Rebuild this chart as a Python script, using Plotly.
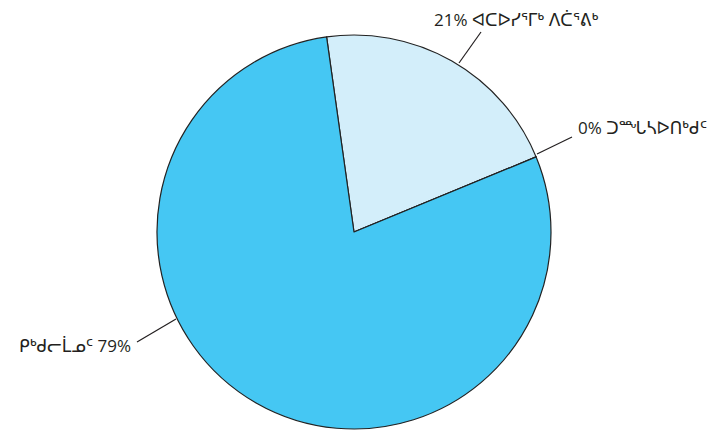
import plotly.graph_objects as go

labels = ["ᐊᑕᐅᓯᕐᒥᒃ ᐱᑖᕐᕕᒃ", "ᑐᙵᓴᐅᑎᒃᑯᑦ", "ᑭᒃᑯᓕᒫᓄᑦ"]
values = [21, 0, 79]
colors = ["#D3EEFA", "#9ADCF5", "#45C7F3"]

OFF = 8  # page body margin offset
W, H = 715 - OFF, 433 - OFF
L, R, T, B = 157 - OFF, 164, 35 - OFF, 4
PW, PH = W - L - R, H - T - B

def px(x):
    return (x - OFF - L) / PW

def py(y):
    return (H - B - (y - OFF)) / PH

fig = go.Figure(go.Pie(
    labels=labels,
    values=values,
    sort=False,
    direction="clockwise",
    rotation=-8,
    marker=dict(colors=colors, line=dict(color="#222222", width=1.2)),
    textinfo="none",
    hoverinfo="label+percent",
    showlegend=False,
))

font = dict(family="Open Sans, DejaVu Sans, sans-serif", size=17, color="#231F20")

label_specs = [
    (f"{values[0]}% {labels[0]}", (433, 19), "left", (459, 63), (481, 32)),
    (f"{values[1]}% {labels[1]}", (577, 127), "left", (537, 154), (572, 137)),
    (f"{labels[2]} {values[2]}%", (132, 345), "right", (176, 319), (137, 342)),
]

for text, (tx, ty), xa, (x0, y0), (x1, y1) in label_specs:
    fig.add_annotation(
        x=px(tx), y=py(ty), xref="paper", yref="paper",
        text=text, showarrow=False, xanchor=xa, yanchor="middle",
        font=font, borderpad=0,
    )
    fig.add_shape(
        type="line", xref="paper", yref="paper",
        x0=px(x0), y0=py(y0), x1=px(x1), y1=py(y1),
        line=dict(color="#231F20", width=1.2),
    )

fig.update_layout(
    width=W, height=H,
    margin=dict(l=L, r=R, t=T, b=B),
    paper_bgcolor="white",
    plot_bgcolor="white",
)

fig.write_html("out.html")
